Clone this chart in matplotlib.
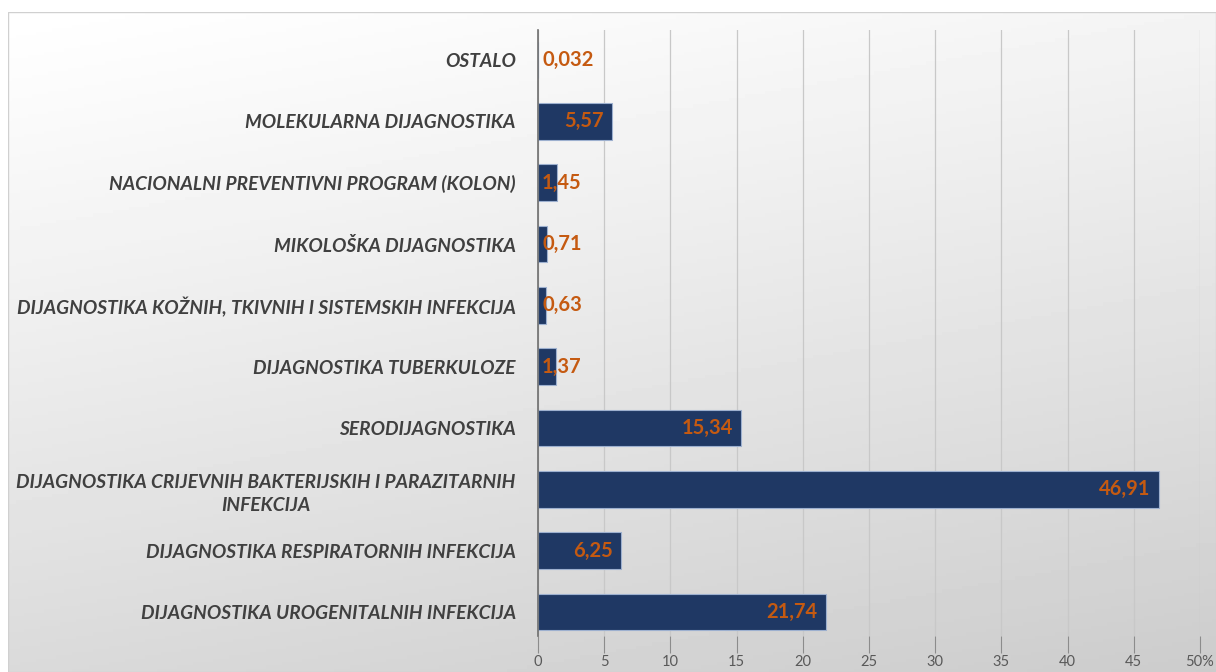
import numpy as np
import matplotlib.pyplot as plt

categories = [
    "DIJAGNOSTIKA UROGENITALNIH INFEKCIJA",
    "DIJAGNOSTIKA RESPIRATORNIH INFEKCIJA",
    "DIJAGNOSTIKA CRIJEVNIH BAKTERIJSKIH I PARAZITARNIH\nINFEKCIJA",
    "SERODIJAGNOSTIKA",
    "DIJAGNOSTIKA TUBERKULOZE",
    "DIJAGNOSTIKA KOŽNIH, TKIVNIH I SISTEMSKIH INFEKCIJA",
    "MIKOLOŠKA DIJAGNOSTIKA",
    "NACIONALNI PREVENTIVNI PROGRAM (KOLON)",
    "MOLEKULARNA DIJAGNOSTIKA",
    "OSTALO",
]
values = [21.74, 6.25, 46.91, 15.34, 1.37, 0.63, 0.71, 1.45, 5.57, 0.032]
value_labels = ["21,74", "6,25", "46,91", "15,34", "1,37", "0,63", "0,71", "1,45", "5,57", "0,032"]
xticks = [0, 5, 10, 15, 20, 25, 30, 35, 40, 45, 50]
xtick_labels = ["0", "5", "10", "15", "20", "25", "30", "35", "40", "45", "50%"]

plt.rcParams['font.family'] = ['Lato', 'DejaVu Sans']

fig = plt.figure(figsize=(12.16, 6.72), dpi=100)

# gradient background panel
bg = fig.add_axes([8 / 1216, 0, 1 - 8 / 1216, 1 - 12 / 672])
yy, xx = np.mgrid[0:1:200j, 0:1:300j]
shade = 1 - 0.2 * (0.75 * yy + 0.25 * xx) ** 1.1
bg.imshow(shade, cmap="gray", vmin=0, vmax=1, aspect="auto", extent=[0, 1, 0, 1], origin="upper")
bg.axis("off")
bg.add_patch(plt.Rectangle((0, 0), 1, 1, fill=False, ec="#D0D0D0", lw=1, transform=bg.transAxes))

ax = fig.add_axes([538 / 1216, 1 - 636 / 672, (1200 - 538) / 1216, (636 - 30) / 672])
ax.set_facecolor("none")
y = np.arange(len(categories))
ax.barh(y, values, height=0.6, color="#1F3864", edgecolor="#9DB0CF", linewidth=0.8, zorder=3)

for yi, v, lab in zip(y, values, value_labels):
    if v > 4:
        ax.annotate(lab, (v, yi), xytext=(-6, 0), textcoords="offset points",
                    ha="right", va="center", color="#C55A11", fontsize=14.5, fontweight="bold", zorder=4)
    else:
        ax.annotate(lab, (0, yi), xytext=(3, 0), textcoords="offset points",
                    ha="left", va="center", color="#C55A11", fontsize=14.5, fontweight="bold", zorder=4)

ax.set_xlim(0, 50)
ax.set_ylim(-0.39, 9.49)
ax.set_yticks(y)
ax.set_yticklabels(categories, fontsize=13.8, fontweight="bold", fontstyle="italic", color="#404040")
for t in ax.get_yticklabels():
    t.set_multialignment("center")
    t.set_linespacing(1.45)
ax.tick_params(axis="y", length=0, pad=16)
ax.set_xticks(xticks)
ax.set_xticklabels(xtick_labels, fontsize=10.5, color="#595959")
ax.tick_params(axis="x", direction="out", length=12, color="#8C8C8C", pad=2)
ax.grid(axis="x", color="#C8C8C8", linewidth=0.9, zorder=0)
for s in ["top", "right", "bottom"]:
    ax.spines[s].set_visible(False)
ax.spines["left"].set_color("#6E6E6E")
ax.spines["left"].set_linewidth(1.2)
ax.spines["left"].set_zorder(5)

fig.savefig("out.png", dpi=100)
